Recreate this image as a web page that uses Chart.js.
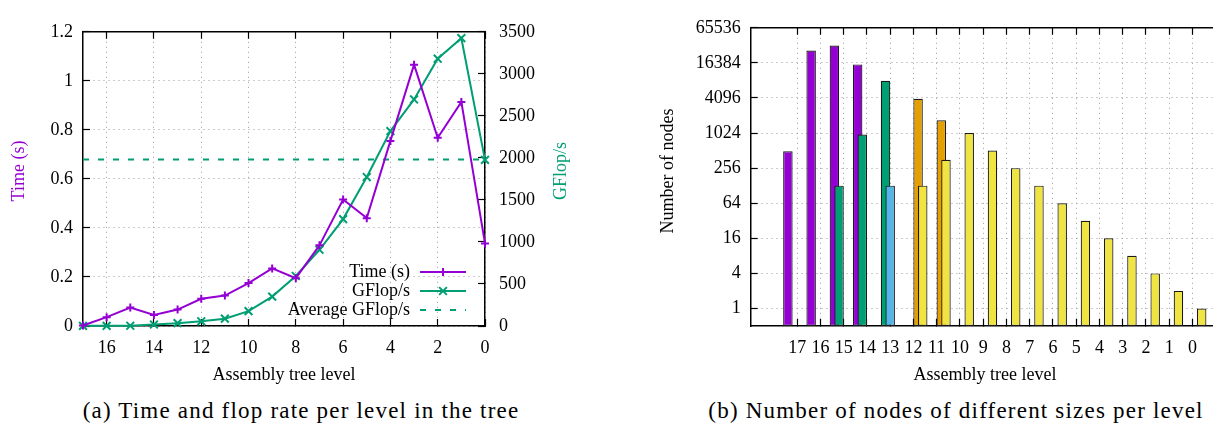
<!DOCTYPE html>
<html>
<head>
<meta charset="utf-8">
<title>Assembly tree levels</title>
<script src="https://cdn.jsdelivr.net/npm/chart.js@4.4.1/dist/chart.umd.min.js"></script>
<style>
  body { margin: 0; background: #fff; width: 1215px; height: 430px; overflow: hidden; position: relative; }
  #panelA { position: absolute; left: 0; top: 0; width: 600px; height: 392px; }
  #panelB { position: absolute; left: 600px; top: 0; width: 615px; height: 392px; }
  .caption { position: absolute; top: 398px; font-family: "Liberation Serif", serif; font-size: 23px; letter-spacing: 1.2px; white-space: nowrap; transform: translateX(-50%); color: #000; }
</style>
</head>
<body>
<div id="panelA"><canvas id="timeChart"></canvas></div>
<div id="panelB"><canvas id="nodesChart"></canvas></div>
<div class="caption" style="left:301px">(a) Time and flop rate per level in the tree</div>
<div class="caption" style="left:956px">(b) Number of nodes of different sizes per level</div>
<script>
// levels of the assembly tree, leaves (17) on the left, root (0) on the right
const levels = [17, 16, 15, 14, 13, 12, 11, 10, 9, 8, 7, 6, 5, 4, 3, 2, 1, 0];
const evenLevels = [16, 14, 12, 10, 8, 6, 4, 2, 0];
const timeTicks = [0, 0.2, 0.4, 0.6, 0.8, 1, 1.2];
const gflopTicks = [0, 500, 1000, 1500, 2000, 2500, 3000, 3500];

// time spent and flop rate per level
const timeSec = [0.002, 0.036, 0.075, 0.045, 0.067, 0.111, 0.124, 0.175, 0.235, 0.195,
                 0.329, 0.516, 0.44, 0.755, 1.066, 0.768, 0.914, 0.337];
const gflops = [2, 2, 3, 18, 34, 56, 87, 177, 350, 595,
                907, 1272, 1772, 2318, 2695, 3180, 3424, 1976];
const avgGflops = 1980;

// number of nodes per level, split by front size
const nodeTicks = [1, 4, 16, 64, 256, 1024, 4096, 16384, 65536];
const sizeLabels = ['dim(F11) <= 8', '8 < dim(F11) <= 16', '16 < dim(F11) <= 24',
                    '24 < dim(F11) <= 32', '32 < dim(F11)'];
const nodesDim8  = [500, 26600, 32640, 15416, null, null, null, null, null, null, null, null, null, null, null, null, null, null];
const nodesDim16 = [null, null, 128, 968, 8064, null, null, null, null, null, null, null, null, null, null, null, null, null];
const nodesDim24 = [null, null, null, null, 128, null, null, null, null, null, null, null, null, null, null, null, null, null];
const nodesDim32 = [null, null, null, null, null, 3968, 1693, null, null, null, null, null, null, null, null, null, null, null];
const nodesDimBig = [null, null, null, null, null, 128, 355, 1024, 512, 256, 128, 64, 32, 16, 8, 4, 2, 1];

const PURPLE = '#9400d3';
const GREEN = '#009e73';
const barColors = ['#9400d3', '#009e73', '#56b4e9', '#e69f00', '#f0e442'];
const FONT = '"Liberation Serif", serif';
const tickFont = { family: FONT, size: 18 };

Chart.defaults.font.family = FONT;
Chart.defaults.font.size = 18;
Chart.defaults.color = '#000';

const fixW = w => s => { s.width = w; };
const fixH = h => s => { s.height = h; };
const setTicks = vals => s => { s.ticks = vals.map(v => ({ value: v })); };

// gnuplot-like axes: dotted grid, ticks pointing into the plot
function inwardGrid(onArea) {
  return {
    display: true,
    drawOnChartArea: onArea,
    offset: false,
    color: '#9a9a9a',
    lineWidth: 1,
    drawTicks: true,
    tickLength: -7,
    tickColor: '#000',
    tickWidth: 1.2,
    tickBorderDash: []
  };
}
const frameBorder = { display: true, color: '#000', width: 1.5, dash: [1, 4] };

function axisTitles(list) {
  return {
    id: 'axisTitles',
    afterDraw(chart) {
      const ctx = chart.ctx;
      list.forEach(t => {
        ctx.save();
        ctx.translate(t.x, t.y);
        ctx.rotate(t.rot || 0);
        ctx.font = '18px ' + FONT;
        ctx.fillStyle = t.color || '#000';
        ctx.textAlign = 'center';
        ctx.textBaseline = 'middle';
        ctx.fillText(t.text, 0, 0);
        ctx.restore();
      });
    }
  };
}

// key: label right-aligned, sample on its right
function sideKey(k) {
  return {
    id: 'sideKey',
    afterDatasetsDraw(chart) {
      const ctx = chart.ctx;
      ctx.save();
      ctx.font = '18px ' + FONT;
      ctx.textAlign = 'right';
      ctx.textBaseline = 'middle';
      chart.data.datasets.forEach((ds, i) => {
        const y = k.top + i * k.row;
        const x0 = k.sampleLeft, x1 = k.sampleLeft + k.sampleWidth;
        ctx.fillStyle = '#000';
        ctx.fillText(ds.label, k.textRight, y);
        if (k.boxes) {
          ctx.fillStyle = ds.backgroundColor;
          ctx.fillRect(x0, y - 4.5, k.sampleWidth, 9);
          ctx.strokeStyle = ds.borderColor;
          ctx.lineWidth = ds.borderWidth;
          ctx.strokeRect(x0, y - 4.5, k.sampleWidth, 9);
        } else {
          ctx.strokeStyle = ds.borderColor;
          ctx.lineWidth = ds.borderWidth;
          ctx.setLineDash(ds.borderDash || []);
          ctx.beginPath();
          ctx.moveTo(x0, y);
          ctx.lineTo(x1, y);
          ctx.stroke();
          ctx.setLineDash([]);
          if (ds.pointRadius) {
            ctx.lineWidth = ds.pointBorderWidth;
            Chart.helpers.drawPoint(ctx, {
              pointStyle: ds.pointStyle, radius: ds.pointRadius,
              rotation: 0, borderWidth: ds.pointBorderWidth
            }, (x0 + x1) / 2, y);
          }
        }
      });
      ctx.restore();
    }
  };
}

// (a) time and flop rate
new Chart(document.getElementById('timeChart'), {
  type: 'line',
  data: {
    datasets: [
      {
        label: 'Time (s)',
        data: levels.map((l, i) => ({ x: l, y: timeSec[i] })),
        yAxisID: 'y',
        borderColor: PURPLE, backgroundColor: PURPLE,
        borderWidth: 2, pointStyle: 'cross', pointRadius: 4, pointBorderWidth: 2,
        tension: 0, clip: false
      },
      {
        label: 'GFlop/s',
        data: levels.map((l, i) => ({ x: l, y: gflops[i] })),
        yAxisID: 'y2',
        borderColor: GREEN, backgroundColor: GREEN,
        borderWidth: 2, pointStyle: 'crossRot', pointRadius: 5.5, pointBorderWidth: 2,
        tension: 0, clip: false
      },
      {
        label: 'Average GFlop/s',
        data: [{ x: levels[0], y: avgGflops }, { x: levels[levels.length - 1], y: avgGflops }],
        yAxisID: 'y2',
        borderColor: GREEN, borderWidth: 2, borderDash: [6, 9], pointRadius: 0
      }
    ]
  },
  options: {
    responsive: true,
    maintainAspectRatio: false,
    animation: false,
    layout: { padding: { top: 16, left: 0, right: 0, bottom: 0 } },
    plugins: { legend: { display: false }, tooltip: { enabled: false } },
    scales: {
      x: {
        type: 'linear', position: 'bottom', min: 0, max: 17, reverse: true,
        afterBuildTicks: setTicks(evenLevels), afterFit: fixH(66),
        ticks: { padding: 18, font: tickFont, callback: v => String(v) },
        grid: inwardGrid(true), border: frameBorder
      },
      x2: {
        type: 'linear', position: 'top', min: 0, max: 17, reverse: true,
        afterBuildTicks: setTicks(evenLevels), afterFit: fixH(0),
        ticks: { display: false },
        grid: inwardGrid(false), border: frameBorder
      },
      y: {
        type: 'linear', position: 'left', min: 0, max: 1.2,
        afterBuildTicks: setTicks(timeTicks), afterFit: fixW(83),
        ticks: { padding: 17, font: tickFont, callback: v => String(v) },
        grid: inwardGrid(true), border: frameBorder
      },
      y2: {
        type: 'linear', position: 'right', min: 0, max: 3500,
        afterBuildTicks: setTicks(gflopTicks), afterFit: fixW(115),
        ticks: { padding: 21, font: tickFont, callback: v => String(v) },
        grid: inwardGrid(false), border: frameBorder
      }
    }
  },
  plugins: [
    axisTitles([
      { text: 'Time (s)', x: 19, y: 171, rot: -Math.PI / 2, color: PURPLE },
      { text: 'GFlop/s', x: 561, y: 171, rot: -Math.PI / 2, color: GREEN },
      { text: 'Assembly tree level', x: 284, y: 375 }
    ]),
    sideKey({ top: 272, row: 19, textRight: 410, sampleLeft: 420, sampleWidth: 46 })
  ]
});

// (b) nodes per level, log2 axis
const barSeries = [nodesDim8, nodesDim16, nodesDim24, nodesDim32, nodesDimBig];

// later size classes are painted over earlier ones
const paintInOrder = {
  id: 'paintInOrder',
  beforeDatasetsDraw(chart) {
    chart.getSortedVisibleDatasetMetas().forEach(m => m.controller.draw());
    return false;
  }
};

new Chart(document.getElementById('nodesChart'), {
  type: 'bar',
  data: {
    datasets: barSeries.map((arr, k) => ({
      label: sizeLabels[k],
      data: levels.map((l, i) => (arr[i] == null ? null : { x: l, y: Math.log2(arr[i]) })).filter(Boolean),
      backgroundColor: barColors[k],
      borderColor: '#1a1a1a',
      borderWidth: 1.2,
      borderSkipped: false,
      base: -1,
      categoryPercentage: 1,
      barPercentage: 2.04
    }))
  },
  options: {
    responsive: true,
    maintainAspectRatio: false,
    animation: false,
    layout: { padding: { top: 16, left: 0, right: 0, bottom: 0 } },
    plugins: { legend: { display: false }, tooltip: { enabled: false } },
    scales: {
      x: {
        type: 'linear', position: 'bottom', min: -0.86, max: 19, reverse: true, offset: false,
        afterBuildTicks: setTicks(levels), afterFit: fixH(66),
        ticks: { padding: 18, font: tickFont, callback: v => String(v) },
        grid: inwardGrid(true), border: frameBorder
      },
      x2: {
        type: 'linear', position: 'top', min: -0.86, max: 19, reverse: true, offset: false,
        afterBuildTicks: setTicks(levels), afterFit: fixH(0),
        ticks: { display: false },
        grid: inwardGrid(false), border: frameBorder
      },
      y: {
        type: 'linear', position: 'left', min: -1, max: 16,
        afterBuildTicks: setTicks(nodeTicks.map(n => Math.log2(n))), afterFit: fixW(150.7),
        ticks: { padding: 17, font: tickFont, callback: v => String(Math.round(Math.pow(2, v))) },
        grid: inwardGrid(true), border: frameBorder
      }
    }
  },
  plugins: [
    paintInOrder,
    axisTitles([
      { text: 'Number of nodes', x: 68, y: 171, rot: -Math.PI / 2 },
      { text: 'Assembly tree level', x: 385, y: 375 }
    ]),
    sideKey({ top: 33, row: 19, textRight: 545, sampleLeft: 554, sampleWidth: 46, boxes: true })
  ]
});
</script>
</body>
</html>
